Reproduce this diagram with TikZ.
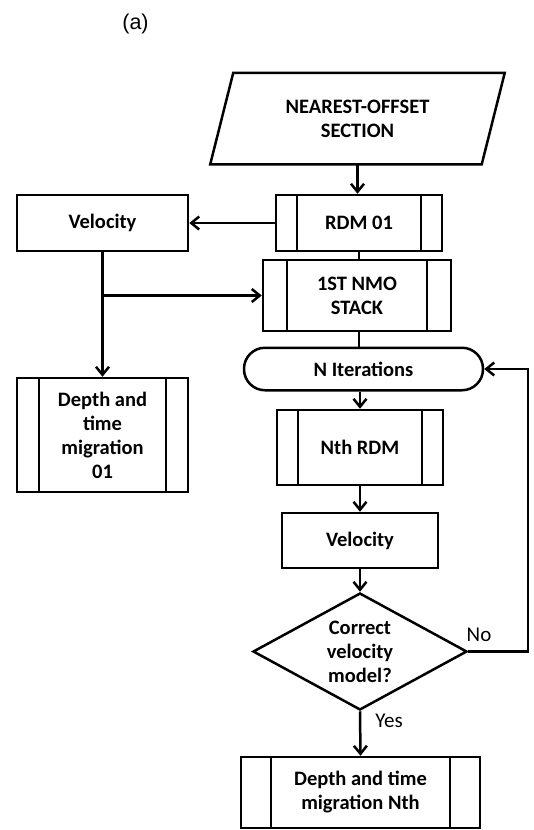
\documentclass[tikz,border=0pt]{standalone}
\usepackage{fontspec}
\setmainfont{Carlito}
\newfontfamily\arialfont{Liberation Sans}
\usetikzlibrary{shapes.geometric,arrows.meta,calc}
\begin{document}
\begin{tikzpicture}[x=1pt,y=-1pt,
  every node/.style={font=\bfseries\fontsize{20.5}{24}\selectfont, align=center, inner sep=0pt, line width=2.5pt},
  line/.style={line width=2.5pt},
  arr/.style={line width=2.5pt, -{Straight Barb[length=8pt,width=13pt]}},
  box/.style={draw},
  procbox/.style={draw, path picture={
      \draw[line width=2.5pt] ([xshift=#1]path picture bounding box.north west) -- ([xshift=#1]path picture bounding box.south west)
        ([xshift=-#1]path picture bounding box.north east) -- ([xshift=-#1]path picture bounding box.south east);}},
  terminal/.style={draw, rounded corners=21pt},
  decision/.style={draw, diamond, aspect=1.83},
  lbl/.style={font=\fontsize{21}{25}\selectfont}
]
\useasboundingbox (0,0) rectangle (534,830);

\node[font=\arialfont\fontsize{21.5}{24}\selectfont] (tag) at (135.5,24) {(a)};

\node[minimum width=269pt, minimum height=89pt] (src) at (357.5,118.5) {NEAREST-OFFSET\\SECTION};
\draw[line, line join=miter] ($(src.north west)+(11.5,0)$) -- ($(src.north east)+(11.5,0)$)
  -- ($(src.south east)+(-11.5,0)$) -- ($(src.south west)+(-11.5,0)$) -- cycle;

\node[procbox=21pt, minimum width=166pt, minimum height=56pt] (rdm1) at (359,223) {RDM 01};
\node[box, minimum width=171pt, minimum height=56pt] (vel1) at (102.5,223) {Velocity};
\node[procbox=24pt, minimum width=188pt, minimum height=71pt] (nmo) at (357,295.5) {1ST NMO\\STACK};
\node[procbox=22pt, minimum width=171pt, minimum height=114pt] (dep1) at (102.5,435) {Depth and\\time\\migration\\01};
\node[terminal, minimum width=239pt, minimum height=42.5pt] (nit) at (363.5,369) {N Iterations};
\node[procbox=21pt, minimum width=166pt, minimum height=75pt] (nrdm) at (360,447.5) {Nth RDM};
\node[box, minimum width=156pt, minimum height=55pt] (vel2) at (360,540.5) {Velocity};
\node[decision, minimum width=214pt, minimum height=117pt] (dia) at (360,651.5) {\fontsize{20.5}{25}\selectfont Correct\\velocity\\model?};
\node[procbox=30pt, minimum width=239pt, minimum height=71pt] (depN) at (360.5,792.5) {Depth and time\\migration Nth};

\coordinate (loopc) at (528,651.5);

\draw[arr] (src.south) -- (src.south |- rdm1.north);
\draw[arr] (rdm1.west) -- (vel1.east);
\draw[line] (rdm1.south) -- (rdm1.south |- nmo.north);
\draw[arr] (vel1.south) -- (dep1.north);
\coordinate (br) at (vel1.south |- nmo.west);
\draw[arr] (br) -- (nmo.west);
\draw[line] (rdm1.south |- nmo.south) -- (rdm1.south |- nit.north);
\draw[arr] (nrdm.north |- nit.south) -- (nrdm.north);
\draw[arr] (nrdm.south) -- (vel2.north);
\draw[arr] (vel2.south) -- (dia.north);
\draw[arr] (dia.south) -- node[lbl, pos=0.21, anchor=west, xshift=14pt] {Yes} (depN.north);
\draw[arr] (dia.east) -- node[lbl, pos=0.18, anchor=south, yshift=9pt] {No} (loopc) |- (nit.east);
\end{tikzpicture}
\end{document}
